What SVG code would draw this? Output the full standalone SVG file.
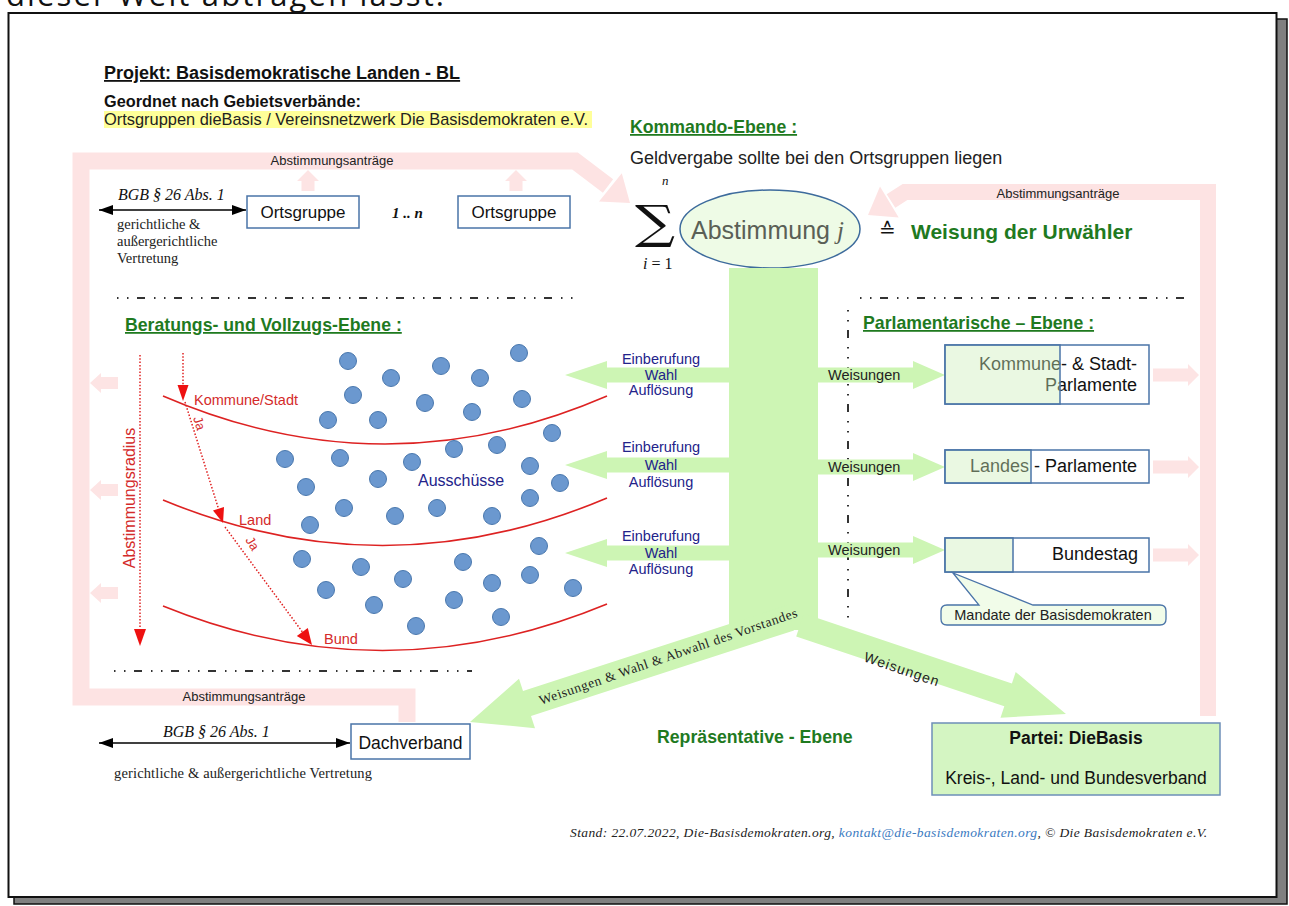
<svg xmlns="http://www.w3.org/2000/svg" width="1289" height="906" viewBox="0 0 1289 906">
<defs>
<style>
.s{font-family:"Liberation Sans",Arial,sans-serif}
.sr{font-family:"Liberation Serif","Times New Roman",serif}
.g{fill:#1f7a1f;font-weight:bold}
.dash{stroke:#333;stroke-width:2;stroke-dasharray:1.5 8.5 1.5 8.5 8 9;fill:none}
.pinkband{stroke:#fde3e3;fill:none;stroke-linejoin:miter}
.pink{fill:#fde4e4}
.green{fill:#cdf5b4}
.dot{fill:#6b98cf;stroke:#4a78ae;stroke-width:1}
.red{fill:#d42a2a}
.rline{stroke:#e02020;stroke-width:1.5;stroke-dasharray:1.5 1.8;fill:none}
.rhead{fill:#ee1111}
.curve{stroke:#dd2222;stroke-width:1.6;fill:none}
.box{fill:#fff;stroke:#4a74a8;stroke-width:1.5}
.ovl{fill:#cdeebb;fill-opacity:0.42;stroke:#4a74a8;stroke-width:1.5}
.navy{fill:#23238a}
</style>
<marker id="bh" viewBox="0 0 14 10" refX="14" refY="5" markerWidth="14" markerHeight="10" markerUnits="userSpaceOnUse" orient="auto-start-reverse">
<path d="M0,0 L14,5 L0,10 Z" fill="#000"/>
</marker>
</defs>

<rect width="1289" height="906" fill="#fff"/>
<text x="6" y="6" font-family="Open Sans,Noto Sans,sans-serif" font-size="31" fill="#111" textLength="438">dieser Welt abtragen lässt.</text>

<!-- page frame -->
<rect x="14" y="19" width="1273" height="885" fill="#808080" stroke="#111" stroke-width="1.5"/>
<rect x="8.5" y="13" width="1268" height="884" fill="#fff" stroke="#111" stroke-width="2"/>

<!-- pink feedback bands -->
<g id="feedback">
<path class="pinkband" stroke-width="17" d="M407,722 V697 H81 V161 H575 L608,186"/>
<polygon fill="#fde3e3" points="630,203 599,201.5 621.8,173.3"/>
<path class="pinkband" stroke-width="16" d="M1208,716 V192 H905 L891,201"/>
<polygon fill="#fde3e3" points="868,215 880,186.5 898.7,217.5"/>
<polygon class="pink" points="308,170 319,181 314.5,181 314.5,191 301.5,191 301.5,181 297,181"/>
<polygon class="pink" points="516,170 527,181 522.5,181 522.5,191 509.5,191 509.5,181 505,181"/>
<polygon class="pink" points="90,383 101,373 101,377 118,377 118,389 101,389 101,393"/>
<polygon class="pink" points="90,490 101,480 101,484 118,484 118,496 101,496 101,500"/>
<polygon class="pink" points="90,593 101,583 101,587 118,587 118,599 101,599 101,603"/>
<polygon class="pink" points="1199,375 1188,364 1188,368.5 1153,368.5 1153,381.5 1188,381.5 1188,386"/>
<polygon class="pink" points="1199,467 1188,456 1188,460.5 1153,460.5 1153,473.5 1188,473.5 1188,478"/>
<polygon class="pink" points="1199,555 1188,544 1188,548.5 1153,548.5 1153,561.5 1188,561.5 1188,566"/>
<text x="332" y="165" class="s" font-size="13" fill="#222" text-anchor="middle">Abstimmungsanträge</text>
<text x="1058" y="198" class="s" font-size="13" fill="#222" text-anchor="middle">Abstimmungsanträge</text>
<text x="244" y="701" class="s" font-size="13" fill="#222" text-anchor="middle">Abstimmungsanträge</text>
</g>

<!-- header texts -->
<g id="header">
<text x="104" y="79" class="s" font-size="18" font-weight="bold" fill="#111" text-decoration="underline">Projekt: Basisdemokratische Landen - BL</text>
<text x="104" y="107" class="s" font-size="16.3" font-weight="bold" fill="#111">Geordnet nach Gebietsverbände:</text>
<rect x="104" y="111" width="488" height="17" fill="#ffff99"/>
<text x="104" y="124.5" class="s" font-size="16.4" fill="#222">Ortsgruppen dieBasis / Vereinsnetzwerk Die Basisdemokraten e.V.</text>
<text x="630" y="133" class="s g" font-size="17.7" text-decoration="underline">Kommando-Ebene :</text>
<text x="630" y="164" class="s" font-size="18" fill="#222">Geldvergabe sollte bei den Ortsgruppen liegen</text>
</g>

<!-- separators -->
<g id="separators">
<line class="dash" x1="117" y1="298" x2="578" y2="298"/>
<line class="dash" x1="860" y1="298" x2="1190" y2="298"/>
<line class="dash" x1="114" y1="671" x2="472" y2="671"/>
<line class="dash" x1="848" y1="310" x2="848" y2="626"/>
</g>

<!-- Ortsgruppen -->
<g id="ortsgruppe1">
<rect class="box" x="247" y="196" width="112" height="32"/>
<text x="303" y="218" class="s" font-size="17" fill="#111" text-anchor="middle">Ortsgruppe</text>
</g>
<text x="392" y="218" class="sr" font-size="15" font-weight="bold" font-style="italic" fill="#111">1 .. n</text>
<g id="ortsgruppe2">
<rect class="box" x="458" y="196" width="112" height="32"/>
<text x="514" y="218" class="s" font-size="17" fill="#111" text-anchor="middle">Ortsgruppe</text>
</g>
<g id="bgb1">
<line x1="99" y1="210" x2="246" y2="210" stroke="#000" stroke-width="1.5" marker-start="url(#bh)" marker-end="url(#bh)"/>
<text x="118" y="200" class="sr" font-size="16" font-style="italic" fill="#111">BGB § 26 Abs. 1</text>
<text x="117" y="229" class="sr" font-size="14.5" fill="#222">gerichtliche &amp;</text>
<text x="117" y="246" class="sr" font-size="14.5" fill="#222">außergerichtliche</text>
<text x="117" y="263" class="sr" font-size="14.5" fill="#222">Vertretung</text>
</g>

<!-- Abstimmung -->
<g id="abstimmung">
<text font-family="DejaVu Serif,Liberation Serif,serif" font-size="46" fill="#111" transform="translate(635,238) scale(1.22,1)">∑</text>
<text x="662" y="185" class="sr" font-size="13" font-style="italic" fill="#111">n</text>
<text x="643" y="269" class="sr" font-size="16" fill="#111"><tspan font-style="italic">i</tspan> = 1</text>
<ellipse cx="770" cy="229" rx="90" ry="39" fill="#eefbe6" stroke="#3d6b9c" stroke-width="1.5"/>
<text x="691" y="239" class="s" font-size="25" fill="#5a6056">Abstimmung <tspan class="sr" font-style="italic">j</tspan></text>
<text x="879" y="237" font-family="DejaVu Sans,sans-serif" font-size="20" fill="#111">≙</text>
<text x="911" y="239" class="s g" font-size="21">Weisung der Urwähler</text>
</g>

<!-- Beratungs-Ebene -->
<g id="beratung">
<text x="125" y="331" class="s g" font-size="17.7" text-decoration="underline">Beratungs- und Vollzugs-Ebene :</text>
<path class="curve" d="M163,396 Q385,492 607,396"/>
<path class="curve" d="M163,500 Q385,592 607,498"/>
<path class="curve" d="M163,606 Q385,696 607,604"/>
<text x="194" y="405" class="s red" font-size="14.5">Kommune/Stadt</text>
<text x="239" y="525" class="s red" font-size="14.5">Land</text>
<text x="324" y="644" class="s red" font-size="14.5">Bund</text>
<line class="rline" x1="183" y1="353" x2="183" y2="386"/>
<polygon class="rhead" points="177.5,385 188.5,385 183,401"/>
<line class="rline" x1="185" y1="402" x2="218.5" y2="508.7"/>
<polygon class="rhead" points="223,523 224,507 213,510.5"/>
<line class="rline" x1="225" y1="527" x2="302.5" y2="632.1"/>
<polygon class="rhead" points="312,645 307.8,628 296.8,636"/>
<line class="rline" x1="140" y1="355" x2="140" y2="630"/>
<polygon class="rhead" points="134,629 146,629 140,646"/>
<text x="193" y="418" class="s red" font-size="13" transform="rotate(72,193,418)">Ja</text>
<text x="245" y="540" class="s red" font-size="13" transform="rotate(58,245,540)">Ja</text>
<text x="135" y="498" class="s red" font-size="16" text-anchor="middle" transform="rotate(-90,135,498)">Abstimmungsradius</text>
</g>

<!-- Ausschüsse -->
<g id="ausschuesse">
<circle class="dot" cx="348" cy="361" r="8.5"/>
<circle class="dot" cx="391" cy="378" r="8.5"/>
<circle class="dot" cx="441" cy="366" r="8.5"/>
<circle class="dot" cx="480" cy="378" r="8.5"/>
<circle class="dot" cx="519" cy="353" r="8.5"/>
<circle class="dot" cx="353" cy="395" r="8.5"/>
<circle class="dot" cx="425" cy="403" r="8.5"/>
<circle class="dot" cx="472" cy="412" r="8.5"/>
<circle class="dot" cx="522" cy="399" r="8.5"/>
<circle class="dot" cx="328" cy="420" r="8.5"/>
<circle class="dot" cx="378" cy="420" r="8.5"/>
<circle class="dot" cx="552" cy="433" r="8.5"/>
<circle class="dot" cx="497" cy="445" r="8.5"/>
<circle class="dot" cx="454" cy="449" r="8.5"/>
<circle class="dot" cx="285" cy="459" r="8.5"/>
<circle class="dot" cx="340" cy="458" r="8.5"/>
<circle class="dot" cx="412" cy="462" r="8.5"/>
<circle class="dot" cx="530" cy="466" r="8.5"/>
<circle class="dot" cx="560" cy="483" r="8.5"/>
<circle class="dot" cx="378" cy="479" r="8.5"/>
<circle class="dot" cx="306" cy="487" r="8.5"/>
<circle class="dot" cx="530" cy="498" r="8.5"/>
<circle class="dot" cx="344" cy="508" r="8.5"/>
<circle class="dot" cx="395" cy="516" r="8.5"/>
<circle class="dot" cx="437" cy="508" r="8.5"/>
<circle class="dot" cx="492" cy="516" r="8.5"/>
<circle class="dot" cx="310" cy="525" r="8.5"/>
<circle class="dot" cx="539" cy="546" r="8.5"/>
<circle class="dot" cx="302" cy="559" r="8.5"/>
<circle class="dot" cx="361" cy="567" r="8.5"/>
<circle class="dot" cx="403" cy="579" r="8.5"/>
<circle class="dot" cx="463" cy="562" r="8.5"/>
<circle class="dot" cx="492" cy="583" r="8.5"/>
<circle class="dot" cx="530" cy="575" r="8.5"/>
<circle class="dot" cx="573" cy="588" r="8.5"/>
<circle class="dot" cx="326" cy="590" r="8.5"/>
<circle class="dot" cx="374" cy="605" r="8.5"/>
<circle class="dot" cx="454" cy="600" r="8.5"/>
<circle class="dot" cx="501" cy="617" r="8.5"/>
<circle class="dot" cx="416" cy="626" r="8.5"/>
<text x="418" y="486" class="s navy" font-size="16">Ausschüsse</text>
</g>

<!-- green connectors -->
<g id="connectors">
<rect class="green" x="729" y="268" width="89" height="362"/>
<polygon class="green" points="786,605.6 523,691.1 519,678.8 470,722 535,728.2 531,715.9 794,630.4"/>
<polygon class="green" points="803.8,613.6 1011.9,683.5 1015.7,672.1 1066,714 1000.5,717.7 1004.3,706.3 796.2,636.4"/>
<polygon class="green" points="729,367.5 607,367.5 607,361 565,375 607,389 607,382.5 729,382.5"/>
<polygon class="green" points="729,457.5 607,457.5 607,451 565,465 607,479 607,472.5 729,472.5"/>
<polygon class="green" points="729,545.5 607,545.5 607,539 565,553 607,567 607,560.5 729,560.5"/>
<polygon class="green" points="818,367.5 913,367.5 913,361 945,375 913,389 913,382.5 818,382.5"/>
<polygon class="green" points="818,459.5 913,459.5 913,453 945,467 913,481 913,474.5 818,474.5"/>
<polygon class="green" points="818,542.5 913,542.5 913,536 945,550 913,564 913,557.5 818,557.5"/>
<g class="s navy" font-size="14.5" text-anchor="middle">
<text x="661" y="364">Einberufung</text>
<text x="661" y="380">Wahl</text>
<text x="661" y="395">Auflösung</text>
<text x="661" y="452">Einberufung</text>
<text x="661" y="470">Wahl</text>
<text x="661" y="487">Auflösung</text>
<text x="661" y="541">Einberufung</text>
<text x="661" y="558">Wahl</text>
<text x="661" y="574">Auflösung</text>
</g>
<g class="s" font-size="14.5" fill="#222">
<text x="828" y="380">Weisungen</text>
<text x="828" y="472">Weisungen</text>
<text x="828" y="555">Weisungen</text>
</g>
<text x="541" y="705" class="sr" font-size="13.5" fill="#222" textLength="272" transform="rotate(-19,541,705)">Weisungen &amp; Wahl &amp; Abwahl des Vorstandes</text>
<text x="863" y="661" class="s" font-size="14" fill="#222" textLength="78" transform="rotate(19,863,661)">Weisungen</text>
</g>

<!-- Parlamente -->
<g id="parlamente">
<text x="863" y="329" class="s g" font-size="17.7" text-decoration="underline">Parlamentarische – Ebene :</text>
</g>
<g id="kommune-parlament">
<rect class="box" x="945" y="345" width="204" height="59"/>
<text x="1137" y="370" class="s" font-size="18" fill="#111" text-anchor="end">Kommune- &amp; Stadt-</text>
<text x="1137" y="391" class="s" font-size="18" fill="#111" text-anchor="end">Parlamente</text>
<rect class="ovl" x="945" y="345" width="115" height="59"/>
</g>
<g id="landes-parlament">
<rect class="box" x="945" y="450" width="204" height="33"/>
<text x="1137" y="472" class="s" font-size="18" fill="#111" text-anchor="end">Landes - Parlamente</text>
<rect class="ovl" x="945" y="450" width="86" height="33"/>
</g>
<g id="bundestag">
<rect class="box" x="945" y="538" width="204" height="34"/>
<text x="1138" y="560" class="s" font-size="18" fill="#111" text-anchor="end">Bundestag</text>
<rect class="ovl" x="945" y="538" width="68" height="34"/>
</g>
<g id="mandate">
<path d="M953,573 L979,605 L947,605 Q941,605 941,611 L941,619 Q941,625 947,625 L1160,625 Q1166,625 1166,619 L1166,611 Q1166,605 1160,605 L1033,605 Z" fill="#f1fce9" stroke="#4a74a8" stroke-width="1.3"/>
<text x="1053" y="620" class="s" font-size="14.5" fill="#222" text-anchor="middle">Mandate der Basisdemokraten</text>
</g>

<!-- bottom -->
<g id="dachverband">
<rect class="box" x="351" y="724" width="119" height="35"/>
<text x="410.5" y="749" class="s" font-size="17.5" fill="#111" text-anchor="middle">Dachverband</text>
</g>
<g id="bgb2">
<line x1="99" y1="743" x2="350" y2="743" stroke="#000" stroke-width="1.5" marker-start="url(#bh)" marker-end="url(#bh)"/>
<text x="163" y="737" class="sr" font-size="16" font-style="italic" fill="#111">BGB § 26 Abs. 1</text>
<text x="114" y="778" class="sr" font-size="14.5" fill="#222" textLength="258">gerichtliche &amp; außergerichtliche Vertretung</text>
</g>
<text x="657" y="743" class="s g" font-size="17.7">Repräsentative - Ebene</text>
<g id="partei">
<rect x="932" y="723" width="288" height="72" fill="#d4f5c2" stroke="#6d8fb8" stroke-width="1.5"/>
<text x="1076" y="744" class="s" font-size="17.5" font-weight="bold" fill="#111" text-anchor="middle">Partei: DieBasis</text>
<text x="1076" y="784" class="s" font-size="17.5" fill="#111" text-anchor="middle">Kreis-, Land- und Bundesverband</text>
</g>

<text x="570" y="837" class="sr" font-size="13.5" font-style="italic" fill="#222" textLength="637">Stand: 22.07.2022, Die-Basisdemokraten.org, <tspan fill="#3a7abf">kontakt@die-basisdemokraten.org</tspan>, © Die Basisdemokraten e.V.</text>
</svg>
